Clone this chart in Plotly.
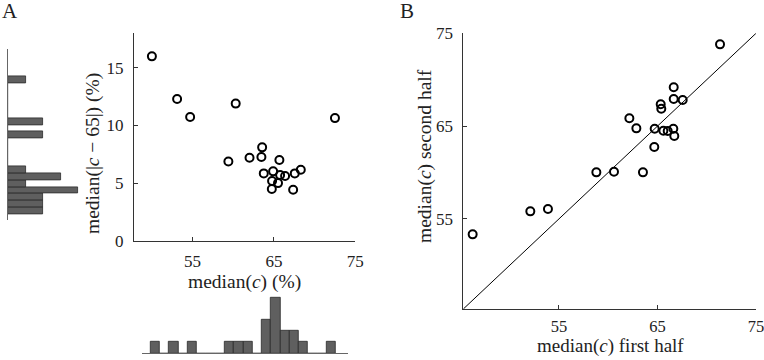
import plotly.graph_objects as go

# Panel A: median(c) vs median(|c-65|)
a_median_c = [50.0, 53.1, 54.7, 60.3, 72.5, 59.4, 62.0, 63.55, 63.46, 65.67,
              63.75, 64.9, 65.76, 66.37, 67.56, 68.3, 64.77, 65.5, 64.74, 67.36]
a_median_dev = [16.0, 12.3, 10.73, 11.9, 10.64, 6.88, 7.2, 8.1, 7.26, 7.0,
                5.84, 6.02, 5.7, 5.61, 5.84, 6.16, 5.18, 5.0, 4.48, 4.42]

# marginal histograms (20 bins each; counts per bin, bin 0 = lowest values)
dev_hist_counts = [2, 2, 2, 4, 1, 3, 1, 0, 0, 0, 0, 2, 0, 2, 0, 0, 0, 0, 0, 1]
c_hist_counts = [1, 0, 1, 0, 1, 0, 0, 0, 1, 1, 1, 0, 3, 5, 2, 2, 1, 0, 0, 1]

# Panel B: first half vs second half
b_first = [46.25, 52.1, 53.89, 58.8, 60.59, 63.53, 64.68, 62.15, 62.86,
           64.72, 65.6, 66.04, 66.61, 66.71, 65.33, 65.39, 66.65, 66.65, 67.56, 71.35]
b_second = [53.34, 55.82, 56.07, 60.02, 60.09, 60.02, 62.75, 65.84, 64.76,
            64.72, 64.51, 64.48, 64.72, 63.94, 67.35, 66.88, 69.19, 67.92, 67.82, 73.81]

a_xticks = [55, 65, 75]
a_yticks = [0, 5, 10, 15]
b_ticks = [55, 65, 75]

FONT = "Liberation Serif"
W, H = 764, 360

def px_x(p):
    return p / W

def px_y(p):
    return 1 - p / H

marker = dict(symbol="circle-open", size=8, color="black", line=dict(width=2, color="black"))
bar_fill = "#5f5f5f"
bar_line = dict(color="#2a2a2a", width=0.8)

fig = go.Figure()
fig.add_trace(go.Scatter(x=a_median_c, y=a_median_dev, mode="markers", marker=marker,
                         xaxis="x", yaxis="y", showlegend=False))
fig.add_trace(go.Bar(y=list(range(len(dev_hist_counts))), x=dev_hist_counts, orientation="h",
                     width=1, marker=dict(color=bar_fill, line=bar_line),
                     xaxis="x2", yaxis="y2", showlegend=False))
fig.add_trace(go.Bar(x=list(range(len(c_hist_counts))), y=c_hist_counts,
                     width=1, marker=dict(color=bar_fill, line=bar_line),
                     xaxis="x3", yaxis="y3", showlegend=False))
fig.add_trace(go.Scatter(x=[45.3, 75], y=[45.3, 75], mode="lines",
                         line=dict(color="black", width=1), xaxis="x4", yaxis="y4", showlegend=False))
fig.add_trace(go.Scatter(x=b_first, y=b_second, mode="markers", marker=marker,
                         xaxis="x4", yaxis="y4", showlegend=False))

tickfont = dict(family=FONT, size=17, color="#222")
titlefont = dict(family=FONT, size=19.5, color="#222")
axcommon = dict(showgrid=False, zeroline=False, showline=True, linecolor="#333", linewidth=1,
                ticks="inside", ticklen=4, tickcolor="#333", mirror=False,
                ticklabeloverflow="allow")

def title_ann(text, x, y, angle=0, size=19.5):
    return dict(text=text, x=px_x(x), y=px_y(y), xref="paper", yref="paper",
                xanchor="center", yanchor="middle", textangle=angle, showarrow=False,
                font=dict(family=FONT, size=size, color="#222"))

fig.update_layout(
    width=W, height=H, margin=dict(l=0, r=0, t=0, b=0, autoexpand=False),
    paper_bgcolor="white", plot_bgcolor="white", bargap=0,
    xaxis=dict(domain=[px_x(134), px_x(355.3)], range=[47.8, 75], tickvals=a_xticks,
               anchor="y", ticklabelstandoff=5, tickfont=tickfont, **axcommon),
    yaxis=dict(domain=[px_y(240.7), px_y(33.3)], range=[0, 18], tickvals=a_yticks,
               anchor="x", ticklabelstandoff=6, tickfont=tickfont, **axcommon),
    xaxis2=dict(domain=[px_x(8), px_x(96)], range=[0, 5], visible=False, anchor="y2"),
    yaxis2=dict(domain=[px_y(220), px_y(49.3)], range=[-1.3, 23.45], anchor="x2",
                showline=True, linecolor="#666", linewidth=1, showticklabels=False,
                ticks="", showgrid=False, zeroline=False),
    xaxis3=dict(domain=[px_x(141.7), px_x(348.3)], range=[-1.47, 20.86], anchor="y3",
                showline=True, linecolor="#666", linewidth=1, showticklabels=False,
                ticks="", showgrid=False, zeroline=False),
    yaxis3=dict(domain=[px_y(353.3), px_y(291.7)], range=[0, 5.5], visible=False, anchor="x3"),
    xaxis4=dict(domain=[px_x(463.3), px_x(756)], range=[45.3, 75], tickvals=b_ticks,
                anchor="y4", ticklabelstandoff=2,
                tickfont=dict(family=FONT, size=16.5, color="#222"), **axcommon),
    yaxis4=dict(domain=[px_y(309), px_y(33.3)], range=[45.3, 75], tickvals=b_ticks,
                anchor="x4", ticklabelstandoff=6, tickfont=tickfont, **axcommon),
    annotations=[
        dict(text="A", x=px_x(0), y=px_y(0), xref="paper", yref="paper", xanchor="left", yanchor="top",
             showarrow=False, font=dict(family=FONT, size=21, color="#222"), yshift=3),
        dict(text="B", x=px_x(398), y=px_y(0), xref="paper", yref="paper", xanchor="left", yanchor="top",
             showarrow=False, font=dict(family=FONT, size=21, color="#222"), yshift=3),
        title_ann("median(<i>c</i>) (%)", 244.6, 282),
        title_ann("median(|<i>c</i> − 65|) (%)", 93, 154, -90),
        title_ann("median(<i>c</i>) first half", 610, 346, size=19),
        title_ann("median(<i>c</i>) second half", 425, 156, -90),
    ],
)

fig.write_html("out.html", config={"displayModeBar": False},
               post_script="document.body.style.margin='0px';")
